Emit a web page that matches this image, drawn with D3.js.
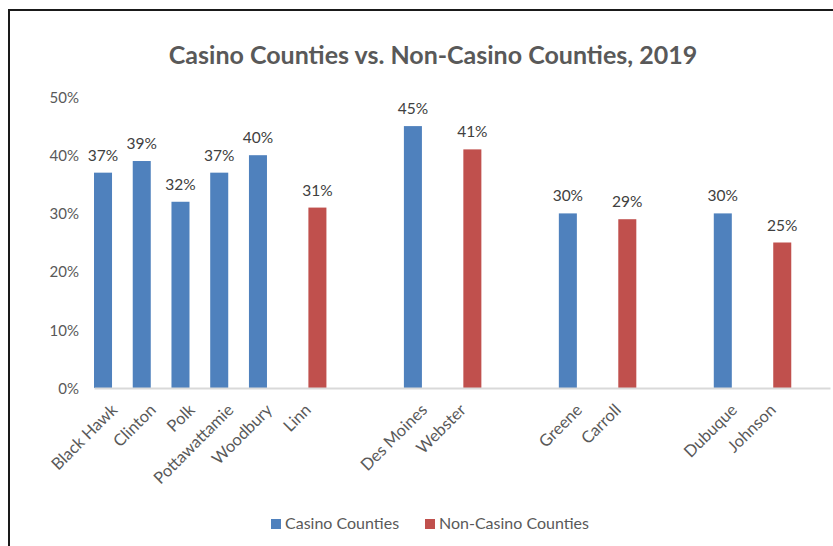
<!DOCTYPE html>
<html>
<head>
<meta charset="utf-8">
<script src="https://cdn.jsdelivr.net/npm/d3@7"></script>
<style>
  html, body { margin: 0; padding: 0; background: #ffffff; }
  svg { display: block; }
  text { font-family: Lato, "Open Sans", sans-serif; fill: #595959; }
</style>
</head>
<body>
<svg id="chart" width="833" height="546"></svg>
<script>
// County shares, 2019 (percent). Blank slots separate the county groups.
const categories = ["Black Hawk", "Clinton", "Polk", "Pottawattamie", "Woodbury", "Linn", "", "",
  "Des Moines", "Webster", "", "", "Greene", "Carroll", "", "", "Dubuque", "Johnson", ""];
const casinoValues = [37, 39, 32, 37, 40, null, null, null, 45, null, null, null, 30, null, null, null, 30, null, null];
const nonCasinoValues = [null, null, null, null, null, 31, null, null, null, 41, null, null, null, 29, null, null, null, 25, null];
const seriesNames = ["Casino Counties", "Non-Casino Counties"];
const yTicks = [0, 10, 20, 30, 40, 50];
const titleText = "Casino Counties vs. Non-Casino Counties, 2019";

const colors = { "Casino Counties": "#4F81BD", "Non-Casino Counties": "#C0504D" };
const seriesValues = { "Casino Counties": casinoValues, "Non-Casino Counties": nonCasinoValues };

const svg = d3.select("#chart");

// chart frame
svg.append("path")
  .attr("d", "M9,546 V10 H833")
  .attr("fill", "none")
  .attr("stroke", "#1a1a1a")
  .attr("stroke-width", 2);

const plot = { left: 94, right: 830, top: 97, bottom: 388 };

const x0 = d3.scaleBand()
  .domain(d3.range(categories.length))
  .range([plot.left, plot.right])
  .paddingInner(0)
  .paddingOuter(0);

const x1 = d3.scaleBand()
  .domain(seriesNames)
  .range([0, x0.bandwidth()])
  .paddingInner(0.13)
  .paddingOuter(0);

const y = d3.scaleLinear().domain([0, 50]).range([plot.bottom, plot.top]);

// title
svg.append("text")
  .attr("x", 433)
  .attr("y", 64)
  .attr("text-anchor", "middle")
  .style("font-weight", "bold")
  .style("font-size", "25px")
  .text(titleText);

// y axis labels (no axis line)
const yAxis = d3.axisLeft(y)
  .tickValues(yTicks)
  .tickFormat(d => d + "%")
  .tickSize(0)
  .tickPadding(0);
const gy = svg.append("g")
  .attr("transform", "translate(79,0)")
  .call(yAxis);
gy.select(".domain").remove();
gy.selectAll("text")
  .attr("dy", "0.35em")
  .style("font-size", "15px")
  .style("font-family", "Lato, sans-serif")
  .attr("fill", "#595959");

// bars
const rows = [];
categories.forEach((cat, i) => {
  seriesNames.forEach(s => {
    const v = seriesValues[s][i];
    if (v !== null && v !== undefined) rows.push({ i, series: s, value: v });
  });
});

svg.append("g")
  .selectAll("rect")
  .data(rows)
  .join("rect")
  .attr("x", d => x0(d.i) + x1(d.series))
  .attr("width", x1.bandwidth())
  .attr("y", d => y(d.value))
  .attr("height", d => y(0) - y(d.value))
  .attr("fill", d => colors[d.series]);

// value labels
svg.append("g")
  .selectAll("text")
  .data(rows)
  .join("text")
  .attr("x", d => x0(d.i) + x1(d.series) + x1.bandwidth() / 2)
  .attr("y", d => y(d.value) - 12)
  .attr("text-anchor", "middle")
  .style("font-size", "15.5px")
  .style("fill", "#404040")
  .text(d => d.value + "%");

// category axis
const xAxis = d3.axisBottom(x0)
  .tickSize(0)
  .tickFormat(i => categories[i]);
const gx = svg.append("g")
  .attr("transform", `translate(0,${plot.bottom})`)
  .call(xAxis);
gx.select(".domain")
  .attr("stroke", "#d9d9d9")
  .attr("stroke-width", 2);
gx.selectAll("text")
  .attr("y", 0)
  .attr("dy", 0)
  .attr("text-anchor", "end")
  .attr("transform", "translate(5,23) rotate(-45)")
  .style("font-size", "16.5px")
  .style("font-family", "Lato, sans-serif")
  .attr("fill", "#595959");

// legend
const legendItems = [
  { name: seriesNames[0], x: 271 },
  { name: seriesNames[1], x: 425 }
];
const lg = svg.append("g").selectAll("g").data(legendItems).join("g")
  .attr("transform", d => `translate(${d.x},519)`);
lg.append("rect")
  .attr("width", 10)
  .attr("height", 10)
  .attr("fill", d => colors[d.name]);
lg.append("text")
  .attr("x", 14)
  .attr("y", 10)
  .style("font-size", "16px")
  .text(d => d.name);
</script>
</body>
</html>
